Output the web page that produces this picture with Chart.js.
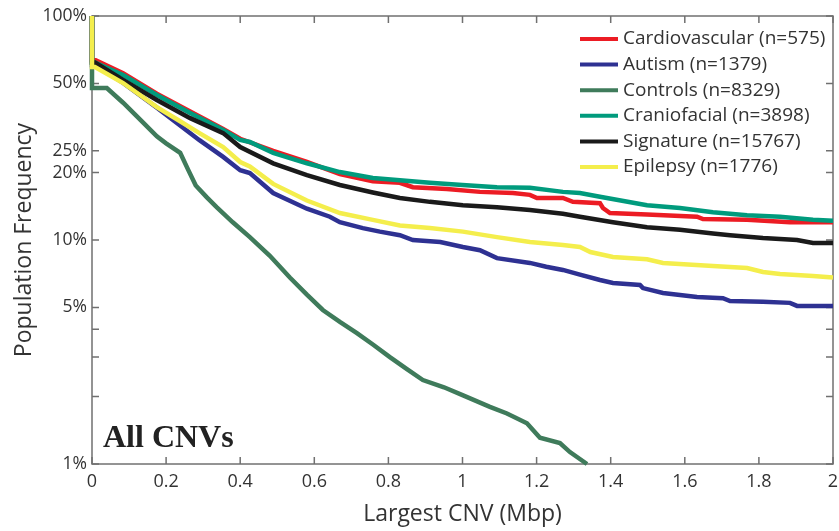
<!DOCTYPE html>
<html>
<head>
<meta charset="utf-8">
<script src="https://cdn.jsdelivr.net/npm/chart.js@4.4.0/dist/chart.umd.min.js"></script>
<style>
  html, body { margin: 0; padding: 0; background: #fff; }
</style>
</head>
<body>
<canvas id="myChart" width="839" height="531"></canvas>
<script>
// values (x in Mbp, y in %)
const cardioX = [0, 0, 0.01, 0.084, 0.175, 0.265, 0.354, 0.40, 0.489, 0.58, 0.669, 0.758, 0.831, 0.866, 0.958, 1.047, 1.136, 1.182, 1.201, 1.271, 1.298, 1.371, 1.379, 1.398, 1.498, 1.633, 1.649, 1.768, 1.884, 2.0];
const cardioY = [100, 63.5, 63.5, 55.5, 45, 37.5, 31.3, 28.3, 25.0, 22.3, 19.7, 18.3, 18.0, 17.2, 16.9, 16.4, 16.2, 15.9, 15.4, 15.4, 14.8, 14.6, 13.9, 13.2, 13.0, 12.7, 12.4, 12.3, 12.0, 12.0];

const autismX = [0, 0, 0.008, 0.084, 0.175, 0.229, 0.29, 0.354, 0.40, 0.426, 0.489, 0.58, 0.642, 0.669, 0.731, 0.777, 0.831, 0.866, 0.94, 1.001, 1.047, 1.093, 1.182, 1.226, 1.271, 1.317, 1.371, 1.406, 1.479, 1.487, 1.541, 1.633, 1.703, 1.722, 1.811, 1.884, 1.903, 2.0];
const autismY = [100, 60.5, 60.5, 50.3, 39, 33.3, 27.9, 23.5, 20.5, 19.9, 16.2, 13.8, 12.7, 12.0, 11.3, 10.9, 10.5, 10.0, 9.8, 9.3, 9.0, 8.3, 7.9, 7.6, 7.35, 7.0, 6.63, 6.43, 6.3, 6.1, 5.8, 5.57, 5.5, 5.34, 5.3, 5.24, 5.08, 5.08];

const controlsX = [0, 0, 0.04, 0.084, 0.13, 0.175, 0.2, 0.238, 0.26, 0.28, 0.31, 0.337, 0.38, 0.426, 0.48, 0.534, 0.58, 0.623, 0.67, 0.715, 0.76, 0.804, 0.85, 0.893, 0.95, 1.0, 1.074, 1.12, 1.174, 1.209, 1.263, 1.29, 1.336];
const controlsY = [100, 47.7, 47.7, 41, 34.5, 29, 27, 24.5, 20.5, 17.5, 15.5, 14.0, 12.0, 10.3, 8.5, 6.8, 5.7, 4.87, 4.3, 3.84, 3.4, 3.0, 2.65, 2.37, 2.2, 2.03, 1.80, 1.68, 1.52, 1.31, 1.24, 1.13, 1.0];

const cranioX = [0, 0, 0.008, 0.084, 0.175, 0.265, 0.354, 0.40, 0.426, 0.489, 0.58, 0.669, 0.758, 0.831, 0.912, 1.0, 1.093, 1.182, 1.271, 1.317, 1.371, 1.498, 1.587, 1.676, 1.768, 1.857, 1.946, 2.0];
const cranioY = [100, 62, 62, 54.5, 44.4, 36.9, 31.0, 28.0, 27.4, 24.5, 22.0, 20.1, 18.9, 18.5, 18.0, 17.6, 17.2, 17.1, 16.4, 16.2, 15.6, 14.3, 13.9, 13.3, 12.9, 12.7, 12.3, 12.2];

const signatureX = [0, 0, 0.008, 0.084, 0.175, 0.265, 0.354, 0.40, 0.489, 0.58, 0.669, 0.758, 0.831, 0.912, 1.001, 1.093, 1.182, 1.271, 1.317, 1.406, 1.498, 1.587, 1.676, 1.722, 1.811, 1.903, 1.946, 2.0];
const signatureY = [100, 62, 62, 51.8, 42.2, 35.0, 30.0, 26.0, 22.0, 19.5, 17.6, 16.3, 15.4, 14.8, 14.3, 14.0, 13.6, 13.1, 12.7, 12.0, 11.4, 11.1, 10.7, 10.5, 10.2, 10.0, 9.7, 9.7];

const epilepsyX = [0, 0, 0.008, 0.084, 0.175, 0.229, 0.29, 0.354, 0.40, 0.426, 0.489, 0.58, 0.669, 0.758, 0.831, 0.912, 1.001, 1.093, 1.182, 1.271, 1.317, 1.345, 1.406, 1.498, 1.541, 1.676, 1.768, 1.811, 1.857, 1.946, 2.0];
const epilepsyY = [100, 59.2, 59.2, 50.2, 39.2, 34.6, 30.0, 26.0, 22.3, 21.3, 17.8, 15.0, 13.2, 12.3, 11.6, 11.3, 10.9, 10.3, 9.8, 9.5, 9.3, 8.84, 8.4, 8.2, 7.9, 7.65, 7.5, 7.2, 7.05, 6.9, 6.8];

const seriesNames = ["Cardiovascular (n=575)", "Autism (n=1379)", "Controls (n=8329)", "Craniofacial (n=3898)", "Signature (n=15767)", "Epilepsy (n=1776)"];
const seriesColors = ["#ec1c24", "#2e3192", "#3f7b5b", "#009b7d", "#1a1a1a", "#f4ee4c"];
const xTicks = [0, 0.2, 0.4, 0.6, 0.8, 1, 1.2, 1.4, 1.6, 1.8, 2];
const yTicks = [1, 2, 3, 4, 5, 10, 20, 25, 50, 100];
const yLabeled = [1, 5, 10, 20, 25, 50, 100];

const xs = [cardioX, autismX, controlsX, cranioX, signatureX, epilepsyX];
const ys = [cardioY, autismY, controlsY, cranioY, signatureY, epilepsyY];

const FONT = "'Open Sans', 'Noto Sans', sans-serif";

const datasets = seriesNames.map((name, i) => ({
    label: name,
    data: xs[i].map((x, j) => ({ x: x, y: ys[i][j] })),
    borderColor: seriesColors[i],
    backgroundColor: seriesColors[i],
    borderWidth: 4.5,
    pointRadius: 0,
    tension: 0,
    fill: false,
    clip: 6,
    order: 6 - i
}));

// frame + inward ticks under the lines, legend and panel label on top
const decor = {
    id: "decor",
    beforeDatasetsDraw(chart) {
        const { ctx, chartArea: a, scales } = chart;
        ctx.save();
        ctx.strokeStyle = "#707070";
        ctx.lineWidth = 1.5;
        ctx.strokeRect(a.left, a.top, a.right - a.left, a.bottom - a.top);
        ctx.beginPath();
        xTicks.forEach(v => {
            const px = scales.x.getPixelForValue(v);
            ctx.moveTo(px, a.bottom); ctx.lineTo(px, a.bottom - 7);
            ctx.moveTo(px, a.top); ctx.lineTo(px, a.top + 7);
        });
        yTicks.forEach(v => {
            const py = scales.y.getPixelForValue(v);
            ctx.moveTo(a.left, py); ctx.lineTo(a.left + 7, py);
            ctx.moveTo(a.right, py); ctx.lineTo(a.right - 7, py);
        });
        ctx.stroke();
        ctx.restore();
    },
    afterDatasetsDraw(chart) {
        const { ctx, chartArea: a } = chart;
        ctx.save();
        const lx = a.right - 253, ly = a.top + 23, step = 25.6;
        ctx.font = "19px " + FONT;
        ctx.textBaseline = "middle";
        ctx.textAlign = "left";
        chart.data.datasets.forEach((ds, i) => {
            const y = ly + i * step;
            ctx.strokeStyle = ds.borderColor;
            ctx.lineWidth = 4;
            ctx.beginPath();
            ctx.moveTo(lx, y); ctx.lineTo(lx + 38, y);
            ctx.stroke();
            ctx.fillStyle = "#333";
            ctx.fillText(ds.label, lx + 43, y);
        });

        ctx.font = "bold 32px 'Liberation Serif', 'Times New Roman', serif";
        ctx.fillStyle = "#222";
        ctx.textBaseline = "alphabetic";
        ctx.fillText("All CNVs", a.left + 11, a.bottom - 17);
        ctx.restore();
    }
};

const ctx = document.getElementById("myChart").getContext("2d");
new Chart(ctx, {
    type: "line",
    data: { datasets: datasets },
    options: {
        responsive: false,
        animation: false,
        layout: { padding: { left: 0, right: 6, top: 16, bottom: 0 } },
        plugins: { legend: { display: false }, tooltip: { enabled: false } },
        scales: {
            x: {
                type: "linear",
                min: 0,
                max: 2,
                afterBuildTicks: s => { s.ticks = xTicks.map(v => ({ value: v })); },
                afterFit: s => { s.height = 67; s.paddingLeft = 0; s.paddingRight = 0; },
                grid: { display: false, drawTicks: false },
                border: { display: false },
                ticks: {
                    padding: 7,
                    color: "#333",
                    font: { family: FONT, size: 18 },
                    maxRotation: 0,
                    callback: v => String(Number(v.toFixed(1)))
                },
                title: {
                    display: true,
                    text: "Largest CNV (Mbp)",
                    color: "#333",
                    font: { family: FONT, size: 23 },
                    padding: { top: 0, bottom: 3 }
                }
            },
            y: {
                type: "logarithmic",
                min: 1,
                max: 100,
                afterBuildTicks: s => { s.ticks = yTicks.map(v => ({ value: v })); },
                afterFit: s => { s.width = 92; s.paddingTop = 0; s.paddingBottom = 0; },
                grid: { display: false, drawTicks: false },
                border: { display: false },
                ticks: {
                    padding: 5,
                    color: "#333",
                    font: { family: FONT, size: 17.5 },
                    autoSkip: false,
                    callback: v => yLabeled.includes(v) ? v + "%" : ""
                },
                title: {
                    display: true,
                    text: "Population Frequency",
                    color: "#333",
                    font: { family: FONT, size: 23 },
                    padding: { top: 11, bottom: 0 }
                }
            }
        }
    },
    plugins: [decor]
});
</script>
</body>
</html>
